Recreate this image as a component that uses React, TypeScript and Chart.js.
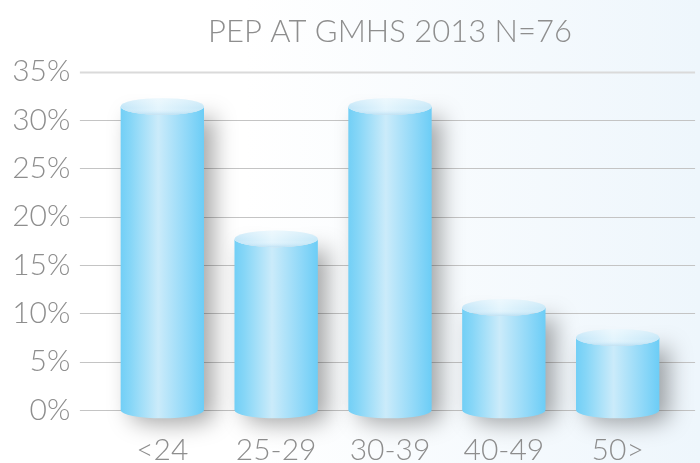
import React, { useEffect, useRef } from "react";
import { Chart, registerables } from "chart.js";

Chart.register(...registerables);

const TITLE = "PEP AT GMHS 2013 N=76";
const CATEGORIES = ["<24", "25-29", "30-39", "40-49", "50>"];
const VALUES = [31.4, 17.7, 31.4, 10.6, 7.5];
const Y_TICKS = [0, 5, 10, 15, 20, 25, 30, 35];

const FONT_FAMILY = "Lato, 'Open Sans', sans-serif";
const TEXT_COLOR = "#8e8e8e";

function drawCylinder(ctx: CanvasRenderingContext2D, x: number, top: number, base: number, w: number) {
  const rx = w / 2;
  const ry = w * 0.1;
  const l = x - rx;
  const r = x + rx;

  const side = ctx.createLinearGradient(l, 0, r, 0);
  side.addColorStop(0, "#72cff6");
  side.addColorStop(0.12, "#86d6f7");
  side.addColorStop(0.45, "#cbebfa");
  side.addColorStop(0.8, "#8fd8f8");
  side.addColorStop(1, "#6ccdf6");

  ctx.save();
  ctx.shadowColor = "rgba(0,0,0,0.34)";
  ctx.shadowBlur = 22;
  ctx.shadowOffsetX = 10;
  ctx.shadowOffsetY = 6;
  ctx.beginPath();
  ctx.moveTo(l, top);
  ctx.lineTo(l, base);
  ctx.ellipse(x, base, rx, ry, 0, Math.PI, 0, true);
  ctx.lineTo(r, top);
  ctx.ellipse(x, top, rx, ry, 0, 0, Math.PI, false);
  ctx.closePath();
  ctx.fillStyle = side;
  ctx.fill();
  ctx.restore();

  ctx.save();
  const cap = ctx.createLinearGradient(l, 0, r, 0);
  cap.addColorStop(0, "#c2e6f8");
  cap.addColorStop(0.45, "#e4f5fd");
  cap.addColorStop(1, "#c6e8f8");
  ctx.beginPath();
  ctx.ellipse(x, top, rx, ry, 0, 0, Math.PI * 2);
  ctx.fillStyle = cap;
  ctx.fill();
  const rim = ctx.createLinearGradient(0, top - ry, 0, top + ry);
  rim.addColorStop(0, "rgba(255,255,255,0.35)");
  rim.addColorStop(0.6, "rgba(255,255,255,0)");
  rim.addColorStop(1, "rgba(120,190,230,0.35)");
  ctx.fillStyle = rim;
  ctx.fill();
  ctx.restore();
}

const decorPlugin = {
  id: "decor",
  beforeDraw(chart: any) {
    const { ctx, width, height } = chart;
    ctx.save();
    const g = ctx.createLinearGradient(0, 0, width, 0);
    g.addColorStop(0, "#ffffff");
    g.addColorStop(0.35, "#ffffff");
    g.addColorStop(1, "#eef6fc");
    ctx.fillStyle = g;
    ctx.fillRect(0, 0, width, height);
    ctx.restore();
  },
  beforeDatasetsDraw(chart: any) {
    const { ctx, chartArea } = chart;
    const y = chart.scales.y;
    ctx.save();
    Y_TICKS.forEach((v) => {
      const py = Math.round(y.getPixelForValue(v)) + 0.5;
      const top = v === Y_TICKS[Y_TICKS.length - 1];
      ctx.strokeStyle = top ? "#dadada" : "#c4c4c4";
      ctx.lineWidth = top ? 2 : 1;
      ctx.beginPath();
      ctx.moveTo(chartArea.left - 25.5, py);
      ctx.lineTo(chartArea.right + 20.5, py);
      ctx.stroke();
    });
    ctx.fillStyle = TEXT_COLOR;
    ctx.font = `300 31px ${FONT_FAMILY}`;
    ctx.textAlign = "center";
    ctx.textBaseline = "alphabetic";
    ctx.fillText(TITLE, (chartArea.left + chartArea.right) / 2, 42);
    ctx.restore();
  },
  afterDatasetsDraw(chart: any) {
    const { ctx } = chart;
    const meta = chart.getDatasetMeta(0);
    meta.data.forEach((el: any) => {
      const p = el.getProps(["x", "y", "base", "width"], true);
      drawCylinder(ctx, p.x, p.y, p.base, p.width);
    });
  },
};

export default function App() {
  const ref = useRef<HTMLCanvasElement | null>(null);

  useEffect(() => {
    document.body.style.margin = "0";
    const canvas = ref.current;
    if (!canvas) return;
    const chart = new Chart(canvas, {
      type: "bar",
      data: {
        labels: CATEGORIES,
        datasets: [
          {
            data: VALUES,
            backgroundColor: "rgba(0,0,0,0)",
            borderWidth: 0,
            barPercentage: 1,
            categoryPercentage: 0.732,
          },
        ],
      },
      options: {
        animation: false,
        responsive: false,
        maintainAspectRatio: false,
        layout: { padding: { left: 0, right: 25.4, top: 71.7, bottom: 0 } },
        plugins: {
          legend: { display: false },
          title: { display: false },
          tooltip: { enabled: false },
        },
        scales: {
          x: {
            grid: { display: false, drawTicks: false },
            border: { display: false },
            ticks: {
              color: TEXT_COLOR,
              font: { family: FONT_FAMILY, size: 30, weight: "300" as any },
              padding: 22,
              maxRotation: 0,
            },
            afterFit(scale: any) {
              scale.height = 463 - 411.7;
            },
          },
          y: {
            min: 0,
            max: 35,
            grid: { display: false, drawTicks: false },
            border: { display: false },
            ticks: {
              stepSize: 5,
              color: TEXT_COLOR,
              font: { family: FONT_FAMILY, size: 30, weight: "300" as any },
              padding: 35,
              callback: (v: any) => `${v}%`,
            },
            afterFit(scale: any) {
              scale.width = 105.4;
            },
          },
        },
      },
      plugins: [decorPlugin],
    });
    return () => chart.destroy();
  }, []);

  return <canvas ref={ref} width={700} height={463} style={{ display: "block" }} />;
}
